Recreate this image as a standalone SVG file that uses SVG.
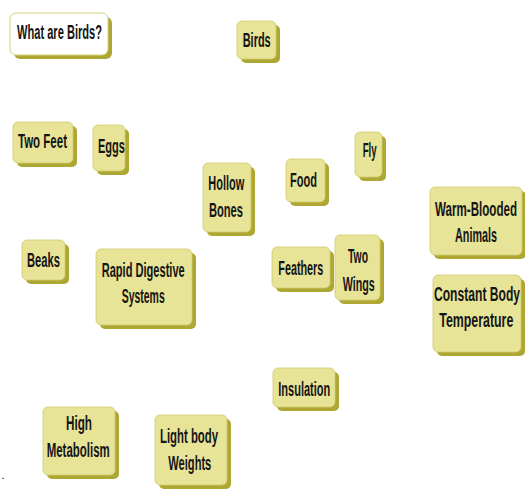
<svg xmlns="http://www.w3.org/2000/svg" width="525" height="493" viewBox="0 0 525 493">
<style>
.s{fill:#aea733}
.f{fill:#e7e397;stroke:#d1cc70;stroke-width:0.8}
.w{fill:#ffffff;stroke:#d6d27a;stroke-width:1}
.t{font-family:"Liberation Sans",Arial,sans-serif;font-weight:bold;font-size:20px;fill:#151515}
</style>
<rect width="525" height="493" fill="#ffffff"/>
<g id="connectors"></g>
<g id="what">
<rect class="s" x="14" y="17" width="98" height="42" rx="6"/>
<rect class="w" x="10" y="13" width="98" height="42" rx="6"/>
<text class="t" x="17" y="38.5" textLength="85" lengthAdjust="spacingAndGlyphs">What are Birds?</text>
</g>
<g id="birds">
<rect class="s" x="241" y="25" width="39" height="38" rx="5"/>
<rect class="f" x="237" y="21" width="39" height="38" rx="5"/>
<text class="t" x="242.7" y="47.3" textLength="28" lengthAdjust="spacingAndGlyphs">Birds</text>
</g>
<g id="twofeet">
<rect class="s" x="17" y="126" width="60" height="41" rx="5"/>
<rect class="f" x="13" y="122" width="60" height="41" rx="5"/>
<text class="t" x="18" y="147.5" textLength="49" lengthAdjust="spacingAndGlyphs">Two Feet</text>
</g>
<g id="eggs">
<rect class="s" x="97" y="129" width="32" height="46" rx="5"/>
<rect class="f" x="93" y="125" width="32" height="46" rx="5"/>
<text class="t" x="98" y="153" textLength="27" lengthAdjust="spacingAndGlyphs">Eggs</text>
</g>
<g id="beaks">
<rect class="s" x="26" y="244" width="43" height="40" rx="5"/>
<rect class="f" x="22" y="240" width="43" height="40" rx="5"/>
<text class="t" x="27" y="266.7" textLength="33" lengthAdjust="spacingAndGlyphs">Beaks</text>
</g>
<g id="rapid">
<rect class="s" x="100" y="253" width="96" height="76" rx="5"/>
<rect class="f" x="96" y="249" width="96" height="76" rx="5"/>
<text class="t" x="101.7" y="276.7" textLength="83" lengthAdjust="spacingAndGlyphs">Rapid Digestive</text>
<text class="t" x="121.7" y="302.7" textLength="43" lengthAdjust="spacingAndGlyphs">Systems</text>
</g>
<g id="hollow">
<rect class="s" x="207" y="167" width="48" height="69" rx="5"/>
<rect class="f" x="203" y="163" width="48" height="69" rx="5"/>
<text class="t" x="208.3" y="189.5" textLength="36" lengthAdjust="spacingAndGlyphs">Hollow</text>
<text class="t" x="209" y="216.5" textLength="34" lengthAdjust="spacingAndGlyphs">Bones</text>
</g>
<g id="food">
<rect class="s" x="290" y="163" width="39" height="43" rx="5"/>
<rect class="f" x="286" y="159" width="39" height="43" rx="5"/>
<text class="t" x="290" y="187.3" textLength="27" lengthAdjust="spacingAndGlyphs">Food</text>
</g>
<g id="fly">
<rect class="s" x="359" y="136" width="27" height="45" rx="5"/>
<rect class="f" x="355" y="132" width="27" height="45" rx="5"/>
<text class="t" x="362.7" y="156.7" textLength="14" lengthAdjust="spacingAndGlyphs">Fly</text>
</g>
<g id="feathers">
<rect class="s" x="276" y="251" width="58" height="41" rx="5"/>
<rect class="f" x="272" y="247" width="58" height="41" rx="5"/>
<text class="t" x="278.3" y="275" textLength="45" lengthAdjust="spacingAndGlyphs">Feathers</text>
</g>
<g id="twowings">
<rect class="s" x="339" y="239" width="45" height="65" rx="5"/>
<rect class="f" x="335" y="235" width="45" height="65" rx="5"/>
<text class="t" x="348" y="263.3" textLength="20" lengthAdjust="spacingAndGlyphs">Two</text>
<text class="t" x="342.7" y="290.5" textLength="32" lengthAdjust="spacingAndGlyphs">Wings</text>
</g>
<g id="warm">
<rect class="s" x="434" y="191" width="92" height="68" rx="5"/>
<rect class="f" x="430" y="187" width="92" height="68" rx="5"/>
<text class="t" x="435" y="216" textLength="82" lengthAdjust="spacingAndGlyphs">Warm-Blooded</text>
<text class="t" x="455" y="241.7" textLength="42" lengthAdjust="spacingAndGlyphs">Animals</text>
</g>
<g id="constant">
<rect class="s" x="437" y="279" width="88" height="77" rx="5"/>
<rect class="f" x="433" y="275" width="88" height="77" rx="5"/>
<text class="t" x="434" y="300.7" textLength="86" lengthAdjust="spacingAndGlyphs">Constant Body</text>
<text class="t" x="439.3" y="326.7" textLength="74" lengthAdjust="spacingAndGlyphs">Temperature</text>
</g>
<g id="insulation">
<rect class="s" x="277" y="372" width="62" height="39" rx="5"/>
<rect class="f" x="273" y="368" width="62" height="39" rx="5"/>
<text class="t" x="278.3" y="396" textLength="52" lengthAdjust="spacingAndGlyphs">Insulation</text>
</g>
<g id="high">
<rect class="s" x="47" y="411" width="72" height="68" rx="5"/>
<rect class="f" x="43" y="407" width="72" height="68" rx="5"/>
<text class="t" x="66" y="430" textLength="26" lengthAdjust="spacingAndGlyphs">High</text>
<text class="t" x="46.7" y="456.7" textLength="63" lengthAdjust="spacingAndGlyphs">Metabolism</text>
</g>
<g id="light">
<rect class="s" x="159" y="419" width="72" height="70" rx="5"/>
<rect class="f" x="155" y="415" width="72" height="70" rx="5"/>
<text class="t" x="160" y="443.3" textLength="58" lengthAdjust="spacingAndGlyphs">Light body</text>
<text class="t" x="168.3" y="470" textLength="43" lengthAdjust="spacingAndGlyphs">Weights</text>
</g>
<text x="1.5" y="479" style="font-family:'Liberation Sans',Arial,sans-serif;font-size:11px;fill:#000">.</text>
</svg>
